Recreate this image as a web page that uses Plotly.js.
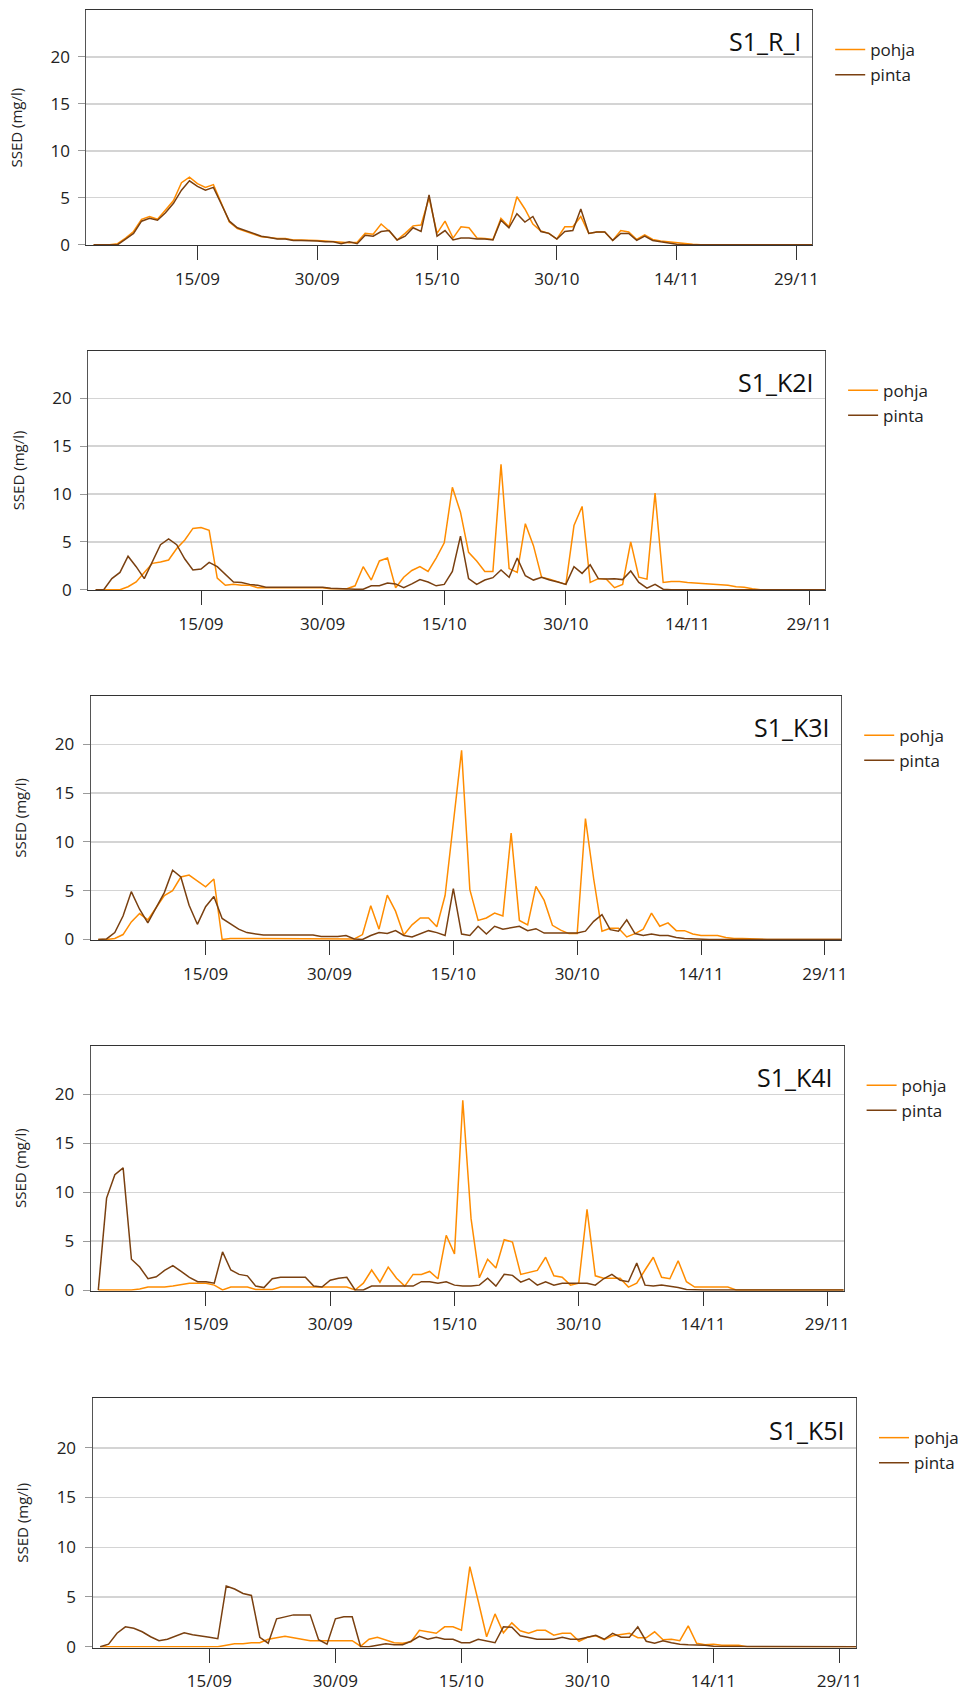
<!DOCTYPE html>
<html>
<head>
<meta charset="utf-8">
<script src="https://cdn.plot.ly/plotly-3.0.1.min.js"></script>
<style>
html,body{margin:0;padding:0;background:#ffffff;}
#chart{width:967px;height:1695px;}
</style>
</head>
<body>
<div id="chart"></div>
<script>
// ---------- DATA ----------
const startDate = '2015-09-02';   // first daily sample
const nDays = 91;                 // 02/09 .. 01/12
const tickDates = ['2015-09-15','2015-09-30','2015-10-15','2015-10-30','2015-11-14','2015-11-29'];
const tickLabels = ['15/09','30/09','15/10','30/10','14/11','29/11'];
const yTicks = [0, 5, 10, 15, 20];
const stations = ['S1_R_I','S1_K2I','S1_K3I','S1_K4I','S1_K5I'];
const seriesNames = ['pohja','pinta'];
const yTitle = 'SSED (mg/l)';

const R_I_pohja = [0,0,0,0.1,0.7,1.4,2.7,3.0,2.7,3.7,4.7,6.6,7.2,6.5,6.1,6.4,4.4,2.4,1.7,1.4,1.1,0.85,0.75,0.65,0.65,0.5,0.5,0.5,0.45,
  0.4,0.35,0.3,0.2,0.25,1.2,1.1,2.2,1.45,0.5,1.2,2.0,2.1,5.0,1.2,2.5,0.7,1.9,1.8,0.7,0.65,0.55,2.8,1.9,5.1,3.8,2.2,1.45,1.2,0.6,1.9,
  1.9,3.0,1.2,1.35,1.35,0.45,1.5,1.35,0.55,1.05,0.55,0.4,0.3,0.25,0.1,0.05,0,0,0,0,0,0,0,0,0,0,0,0,0,0,
  0];
const R_I_pinta = [0,0,0,0,0.6,1.2,2.5,2.8,2.6,3.4,4.4,5.8,6.8,6.2,5.8,6.1,4.3,2.5,1.8,1.5,1.2,0.9,0.75,0.6,0.6,0.45,0.45,0.45,0.4,
  0.3,0.3,0.1,0.3,0.1,1.0,0.9,1.4,1.5,0.5,0.9,1.8,1.4,5.3,0.9,1.5,0.5,0.7,0.7,0.6,0.6,0.5,2.6,1.8,3.3,2.4,3.0,1.4,1.2,0.6,1.4,
  1.5,3.8,1.2,1.35,1.35,0.45,1.2,1.2,0.45,0.9,0.45,0.3,0.15,0.05,0,0,0,0,0,0,0,0,0,0,0,0,0,0,0,0,
  0];

const K2I_pohja = [0,0,0,0,0.3,0.8,1.8,2.75,2.9,3.1,4.3,5.2,6.4,6.5,6.2,1.2,0.45,0.55,0.45,0.45,0.2,0.2,0.2,0.2,0.2,0.2,0.2,0.2,0.2,
  0.1,0.1,0.1,0.4,2.4,1.0,3.0,3.3,0.2,1.3,2.0,2.4,1.9,3.3,4.9,10.7,8.1,3.9,3.0,1.9,1.9,13.1,2.2,1.8,6.9,4.6,1.3,1.1,0.8,0.55,6.7,
  8.7,0.75,1.15,1.1,0.2,0.55,5.0,1.3,1.1,10.1,0.75,0.85,0.85,0.75,0.7,0.6,0.6,0.5,0.45,0.3,0.25,0.1,0,0,0,0,0,0,0,0,
  0];
const K2I_pinta = [0,0,1.15,1.8,3.5,2.4,1.15,3.0,4.7,5.3,4.7,3.2,2.05,2.15,2.85,2.4,1.6,0.8,0.75,0.55,0.45,0.25,0.25,0.25,0.25,0.25,0.25,0.25,0.25,
  0.15,0.1,0.1,0.05,0.05,0.4,0.4,0.7,0.6,0.2,0.6,1.05,0.8,0.4,0.55,1.9,5.6,1.15,0.55,1.0,1.25,2.05,1.3,3.3,1.45,1.0,1.3,1.0,0.8,0.55,2.4,
  1.7,2.6,1.15,1.1,1.15,1.05,1.95,0.75,0.15,0.55,0.05,0,0,0,0,0,0,0,0,0,0,0,0,0,0,0,0,0,0,0,
  0];

const K3I_pohja = [0,0,0.1,0.5,1.8,2.65,2.0,3.2,4.5,5.0,6.4,6.6,6.0,5.4,6.2,0,0.1,0.1,0.1,0.1,0.1,0.1,0.1,0.1,0.1,0.1,0.1,0.1,0.1,
  0.1,0.1,0.05,0.5,3.45,1.05,4.55,2.9,0.45,1.5,2.2,2.2,1.3,4.5,12.0,19.4,5.1,1.95,2.2,2.7,2.4,10.9,1.95,1.5,5.45,4.0,1.45,0.95,0.6,0.6,12.4,
  6.2,0.85,1.15,1.15,0.25,0.6,1.05,2.7,1.35,1.7,0.9,0.9,0.55,0.4,0.4,0.4,0.2,0.1,0.1,0.05,0,0,0,0,0,0,0,0,0,0,
  0];
const K3I_pinta = [0,0.05,0.7,2.4,4.9,3.1,1.7,3.2,4.8,7.1,6.4,3.5,1.55,3.35,4.4,2.15,1.6,1.05,0.7,0.6,0.45,0.45,0.45,0.45,0.45,0.45,0.45,0.3,0.3,
  0.3,0.4,0.05,0,0.4,0.7,0.6,0.9,0.4,0.25,0.6,0.9,0.7,0.4,5.2,0.55,0.4,1.35,0.55,1.35,1.05,1.2,1.35,0.9,1.1,0.65,0.65,0.65,0.65,0.65,0.85,
  1.85,2.55,1.0,0.85,2.0,0.6,0.4,0.55,0.4,0.4,0.2,0.1,0.05,0,0,0,0,0,0,0,0,0,0,0,0,0,0,0,0,0,
  0];

const K4I_pohja = [0,0,0,0,0,0.1,0.3,0.3,0.3,0.4,0.55,0.7,0.7,0.7,0.5,0,0.3,0.3,0.3,0.05,0.05,0.05,0.3,0.3,0.3,0.3,0.3,0.3,0.3,
  0.3,0.3,0,0.7,2.05,0.8,2.35,1.2,0.4,1.6,1.6,1.9,1.15,5.6,3.7,19.4,7.3,1.25,3.15,2.25,5.15,4.9,1.6,1.8,2.0,3.35,1.45,1.3,0.5,0.7,8.25,
  1.45,1.2,1.2,1.2,0.3,0.7,2.05,3.35,1.3,1.15,3.0,0.85,0.3,0.3,0.3,0.3,0.3,0,0,0,0,0,0,0,0,0,0,0,0,0,
  0];
const K4I_pinta = [0,9.4,11.8,12.5,3.15,2.35,1.15,1.35,2.0,2.5,1.9,1.3,0.85,0.85,0.7,3.9,2.05,1.6,1.45,0.4,0.25,1.15,1.3,1.3,1.3,1.3,0.4,0.3,1.0,
  1.2,1.3,0,0,0.4,0.4,0.4,0.4,0.4,0.4,0.85,0.85,0.7,0.85,0.5,0.4,0.4,0.5,1.2,0.4,1.6,1.5,0.8,1.15,0.5,0.85,0.5,0.7,0.7,0.7,0.7,
  0.5,1.15,1.6,1.0,0.85,2.75,0.5,0.4,0.5,0.4,0.25,0.05,0,0,0,0,0,0,0,0,0,0,0,0,0,0,0,0,0,0,
  0];

const K5I_pohja = [0,0,0,0,0,0,0,0,0,0,0,0,0,0,0,0.15,0.3,0.3,0.4,0.4,0.75,0.9,1.05,0.9,0.75,0.6,0.6,0.6,0.6,
  0.6,0.6,0.05,0.75,0.95,0.7,0.4,0.35,0.5,1.65,1.5,1.35,2.0,2.0,1.65,8.05,4.6,1.0,3.3,1.4,2.4,1.6,1.35,1.65,1.65,1.15,1.35,1.35,0.55,0.95,1.1,
  0.7,1.1,1.2,1.35,0.9,0.9,1.5,0.7,0.75,0.6,2.1,0.35,0.2,0.25,0.15,0.15,0.15,0,0,0,0,0,0,0,0,0,0,0,0,0,
  0];
const K5I_pinta = [0,0.25,1.35,2.0,1.85,1.5,1.0,0.6,0.75,1.1,1.4,1.2,1.1,0.95,0.8,6.1,5.8,5.35,5.15,0.95,0.35,2.8,3.0,3.2,3.2,3.2,0.7,0.25,2.8,
  3.0,3.0,0,0,0.15,0.3,0.2,0.2,0.55,1.05,0.75,0.95,0.75,0.75,0.4,0.4,0.75,0.6,0.4,2.0,1.95,1.1,0.95,0.75,0.75,0.75,0.95,0.75,0.75,0.95,1.15,
  0.75,1.35,0.95,0.95,2.0,0.55,0.35,0.6,0.4,0.25,0.2,0.2,0.15,0.05,0.05,0.05,0.05,0.05,0,0,0,0,0,0,0,0,0,0,0,0,
  0];

const pohjaSeries = [R_I_pohja, K2I_pohja, K3I_pohja, K4I_pohja, K5I_pohja];
const pintaSeries = [R_I_pinta, K2I_pinta, K3I_pinta, K4I_pinta, K5I_pinta];

// ---------- STYLE / LAYOUT ----------
const W = 967, H = 1695;
const FONT = '"Open Sans", "Noto Sans", "DejaVu Sans", sans-serif';
const colors = {pohja: '#ff8c00', pinta: '#7a4010'};
// plot-area boxes in pixels: [left, right, top, bottom]
const boxes = [
  [86.3, 812.2, 10.0, 245.4],
  [88.2, 825.1, 350.6, 590.4],
  [90.7, 841.2, 695.7, 940.2],
  [90.7, 843.6, 1045.6, 1290.8],
  [92.5, 856.0, 1398.1, 1647.5]
];
const xRange = ['2015-09-01 02:00', '2015-11-30 23:20'];
const yRange = [-0.08, 25];

function buildDates(start, n) {
  const out = [];
  const d0 = new Date(start + 'T00:00:00Z');
  for (let i = 0; i < n; i++) {
    const d = new Date(d0.getTime() + i * 86400000);
    out.push(d.toISOString().slice(0, 10));
  }
  return out;
}
const dates = buildDates(startDate, nDays);

const traces = [];
const layout = {
  width: W, height: H,
  margin: {l: 0, r: 0, t: 0, b: 0},
  paper_bgcolor: '#ffffff',
  plot_bgcolor: '#ffffff',
  font: {family: FONT, color: '#222'},
  annotations: [],
  showlegend: true
};

stations.forEach((st, i) => {
  const k = i + 1;
  const sfx = k === 1 ? '' : String(k);
  const [L, R, T, B] = boxes[i];
  const legName = 'legend' + sfx;
  traces.push({
    x: dates, y: pohjaSeries[i], type: 'scatter', mode: 'lines',
    name: seriesNames[0], line: {color: colors.pohja, width: 1.5},
    xaxis: 'x' + sfx, yaxis: 'y' + sfx, legend: legName
  });
  traces.push({
    x: dates, y: pintaSeries[i], type: 'scatter', mode: 'lines',
    name: seriesNames[1], line: {color: colors.pinta, width: 1.5},
    xaxis: 'x' + sfx, yaxis: 'y' + sfx, legend: legName
  });
  layout['xaxis' + sfx] = {
    domain: [L / W, R / W], anchor: 'y' + sfx, type: 'date',
    range: xRange, tickvals: tickDates, ticktext: tickLabels,
    ticks: 'outside', ticklen: 14, tickwidth: 1, tickcolor: '#333',
    showline: true, linecolor: '#333', linewidth: 1, mirror: true,
    showgrid: false, zeroline: false,
    tickfont: {family: FONT, size: 17, color: '#222'},
    ticklabelstandoff: 4
  };
  layout['yaxis' + sfx] = {
    domain: [1 - B / H, 1 - T / H], anchor: 'x' + sfx,
    range: yRange, tickvals: yTicks, ticktext: yTicks.map(String),
    ticks: 'outside', ticklen: 7, tickwidth: 1, tickcolor: '#999',
    showline: true, linecolor: '#555', linewidth: 1, mirror: true,
    showgrid: true, gridcolor: '#d4d4d4', gridwidth: 1.5, zeroline: false,
    tickfont: {family: FONT, size: 17, color: '#222'},
    ticklabelstandoff: 5,
    title: {text: yTitle, font: {family: FONT, size: 15, color: '#222'}, standoff: 24}
  };
  layout[legName] = {
    x: (R + 18) / W, xanchor: 'left',
    y: 1 - (T + 22) / H, yanchor: 'top',
    bgcolor: 'rgba(0,0,0,0)', borderwidth: 0,
    font: {family: FONT, size: 17, color: '#222'},
    traceorder: 'normal'
  };
  layout.annotations.push({
    text: st, xref: 'paper', yref: 'paper',
    x: (R - 9) / W, xanchor: 'right',
    y: 1 - (T + 31.5) / H, yanchor: 'middle',
    showarrow: false,
    font: {family: FONT, size: 25, color: '#111'}
  });
});

Plotly.newPlot('chart', traces, layout, {staticPlot: true, displayModeBar: false});
</script>
</body>
</html>
